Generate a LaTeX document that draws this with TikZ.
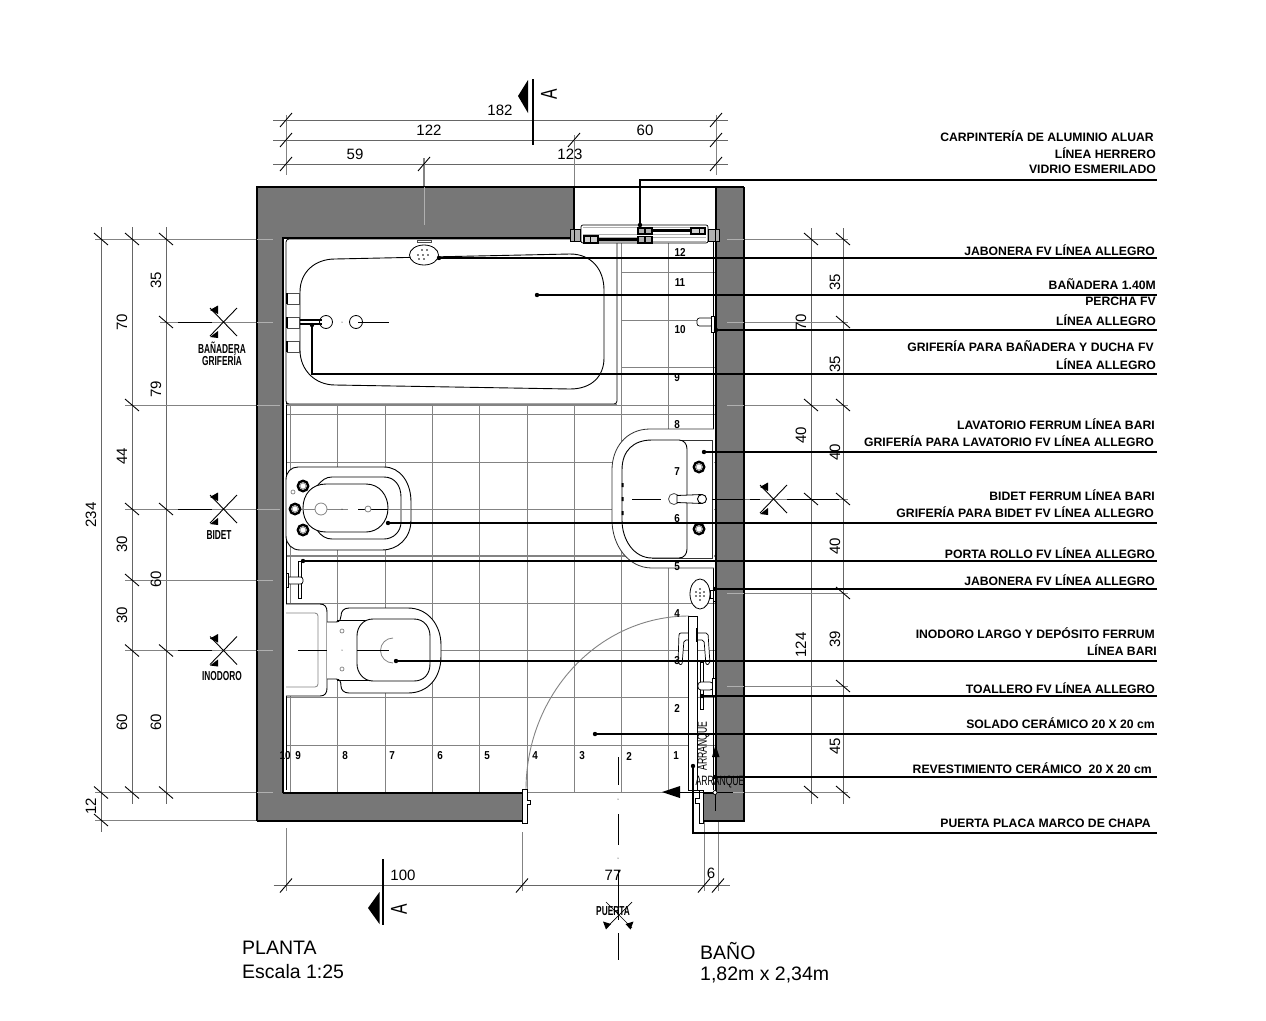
\documentclass[tikz,border=0pt]{standalone}
\usepackage{fontspec}
\setmainfont{Liberation Sans}
\newfontfamily\cond[FakeStretch=.64]{Liberation Sans}
\newfontfamily\condn[FakeStretch=.86]{Liberation Sans}
\newfontfamily\conda[FakeStretch=.68]{Liberation Sans}
\usetikzlibrary{calc}
\definecolor{wallgrey}{HTML}{777777}
\definecolor{tilegrey}{HTML}{838383}
\definecolor{dimgrey}{HTML}{666666}
\definecolor{stubgrey}{HTML}{B0B0B0}
\tikzset{
  wall/.style={fill=wallgrey,draw=none},
  walledge/.style={draw=black,line width=1.1pt},
  tile/.style={draw=tilegrey,line width=1pt},
  ext/.style={draw=tilegrey,line width=.8pt},
  dimline/.style={draw=dimgrey,line width=.8pt},
  tickmark/.style={draw=black,line width=.9pt},
  leader/.style={draw=black,line width=1.2pt},
  fixture/.style={draw=black,line width=.9pt,fill=white},
  fineline/.style={draw=black,line width=.9pt},
  greycirc/.style={draw=tilegrey,line width=.8pt,fill=white},
  lab/.style={font=\fontsize{12.2}{12.2}\selectfont\bfseries,anchor=east,inner sep=0pt},
  num/.style={font=\fontsize{15}{15}\selectfont,inner sep=0pt},
  vnum/.style={num,rotate=90},
  tilenum/.style={font=\condn\fontsize{11.5}{11.5}\selectfont\bfseries,inner sep=0pt},
  title/.style={font=\fontsize{19.5}{19.5}\selectfont,anchor=west,inner sep=0pt},
  cut/.style={font=\cond\fontsize{13}{13}\selectfont\bfseries,inner sep=0pt,align=center},
  arr/.style={font=\cond\fontsize{13.5}{13.5}\selectfont,inner sep=0pt},
  seca/.style={font=\conda\fontsize{23}{23}\selectfont,rotate=90,inner sep=0pt},
}
\newcommand{\TickH}[2]{\draw[tickmark] (#1-6,#2+7) -- (#1+6,#2-7);}
\newcommand{\TickV}[2]{\draw[tickmark] (#1-7,#2-6) -- (#1+7,#2+6);}
\newcommand{\LeadDot}[2]{\fill (#1,#2) circle (2.2);}
\newcommand{\SecMark}[2]{%
  \draw[fineline] (#1-13.5,#2-14) -- (#1+13.5,#2+14) (#1+13.5,#2-14) -- (#1-13.5,#2+14);
  \fill (#1-13.5,#2-12) -- (#1-5.5,#2-16.5) -- (#1-5.5,#2-8) -- cycle;
  \fill (#1-13.5,#2+15) -- (#1-5.5,#2+9) -- (#1-5.5,#2+16) -- cycle;}
\newcommand{\Ring}[2]{%
  \draw[black,line width=2.4pt] (#1,#2) circle (5.2);
  \draw[tilegrey,line width=.6pt] (#1,#2) circle (3);}
\begin{document}
\begin{tikzpicture}[x=1pt,y=-1pt]
\useasboundingbox (0,0) rectangle (1266,1020);
\fill[white] (0,0) rectangle (1266,1020);

% ---- dimension and extension lines
\draw[dimline] (273,120) -- (728,120) (273,140) -- (728,140) (273,164) -- (728,164);
\draw[ext] (286,115) -- (286,175) (716,115) -- (716,175) (574,135) -- (574,187);
\draw[draw=tilegrey,line width=1.1pt] (424,158) -- (424,187);
\foreach \xx in {286,716} {\TickH{\xx}{120}\TickH{\xx}{140}\TickH{\xx}{164}}
\TickH{574}{140}\TickH{424}{164}

\draw[dimline] (101,227) -- (101,832) (132,227) -- (132,804) (166,227) -- (166,804);
\draw[ext] (95,239) -- (257,239) (160,322) -- (257,322) (125,405) -- (257,405)
  (125,509) -- (257,509) (125,580) -- (257,580) (125,650.5) -- (257,650.5)
  (95,792.5) -- (257,792.5) (95,820) -- (257,820);
\draw[fineline,line width=.6pt] (178,322) -- (212,322) (178,509) -- (212,509) (178,650.5) -- (212,650.5);
\foreach \yy in {239,792.5} {\TickV{101}{\yy}\TickV{132}{\yy}\TickV{166}{\yy}}
\TickV{101}{820}
\foreach \yy in {405,509,580,650.5} {\TickV{132}{\yy}}
\foreach \yy in {322,509,650.5} {\TickV{166}{\yy}}

\draw[dimline] (811,228) -- (811,804) (843,228) -- (843,804);
\foreach \yy in {239,322,405,499,593,686,792} {\draw[ext] (744,\yy) -- (848,\yy);}
\draw[fineline,line width=.6pt] (750,499) -- (760,499) (787,499) -- (839,499);
\foreach \yy in {239,405,499,792} {\TickV{811}{\yy}}
\foreach \yy in {239,322,405,499,593,686,792} {\TickV{843}{\yy}}

\draw[dimline] (273.5,885.5) -- (730,885.5);
\draw[ext] (286,828) -- (286,891) (522,832) -- (522,891) (704,820) -- (704,891) (718,820) -- (718,891);
\foreach \xx in {286,522,704,718} {\TickH{\xx}{885.5}}

% ---- tile grid
\foreach \xx in {290,337,385,432,479,527,574} {\draw[tile] (\xx,404) -- (\xx,792);}
\foreach \xx in {621,668} {\draw[tile] (\xx,238) -- (\xx,792);}
\foreach \yy in {272,320,367} {\draw[tile] (621,\yy) -- (716,\yy);}
\foreach \yy in {405,414,462,509,556,603,650,697,745,792} {\draw[tile] (286,\yy) -- (716,\yy);}
\draw[draw=tilegrey,line width=1.3pt] (286,555.5) -- (716,555.5);

% ---- walls
\fill[wall] (257,187) -- (574,187) -- (574,238) -- (283,238) -- (283,793) -- (525,793)
  -- (525,821) -- (257,821) -- cycle;
\fill[wall] (716,187) -- (744,187) -- (744,821) -- (703,821) -- (703,793) -- (716,793) -- cycle;
\draw[walledge] (257,821) -- (257,187) -- (574,187) (283,793) -- (283,238) -- (574,238)
  (744,187) -- (744,821) -- (703,821) (716,187) -- (716,793) (257,821) -- (525,821)
  (283,793) -- (525,793) (703,793) -- (716,793) (574,187) -- (744,187);
\draw[fineline,line width=.7pt] (286,241) -- (286,790) (713.5,240) -- (713.5,790);
\draw[draw=black,line width=2pt] (574,187) -- (574,238);
% extension lines seen across the walls
\draw[draw=stubgrey,line width=1pt] (424,187) -- (424,225);
\draw[draw=stubgrey,line width=.9pt] (257,239) -- (273,239) (257,322) -- (273,322) (257,405) -- (280,405)
  (257,509) -- (280,509) (257,580) -- (273,580) (257,650.5) -- (273,650.5) (257,792.5) -- (273,792.5);
\foreach \yy in {239,322,405,593,686,792} {\draw[draw=stubgrey,line width=.9pt] (727,\yy) -- (744,\yy);}
\draw[fineline,line width=.6pt] (719,499) -- (744,499);

% ---- bathtub
\draw[fixture,line width=.8pt,rounded corners=3pt] (286,239) rectangle (617,404);
\draw[draw=tilegrey,line width=1.4pt] (286,404.5) -- (617,404.5);
\draw[fixture] (335,259) -- (570,254) .. controls (592,254) and (604,270) .. (604,290)
  -- (604,358) .. controls (604,376) and (592,389) .. (570,389)
  -- (335,385) .. controls (315,385) and (300,370) .. (300,350)
  -- (300,292) .. controls (300,272) and (315,259) .. (335,259) -- cycle;
\foreach \yy in {293,317,341} {\draw[fixture,draw=black!70] (287.5,\yy) rectangle (299.5,\yy+11);}
\draw[fineline,line width=1.4pt] (287,293) -- (287,304) (287,317) -- (287,328) (287,341) -- (287,352);
\draw[fixture,line width=.8pt] (326,322) circle (6.5) (356,322) circle (6.5);
\draw[fineline,line width=1.3pt] (300,320) -- (322,320) (300,324) -- (322,324);
\draw[fineline,line width=.6pt] (358,322) -- (389,322);
\fill (342,322) circle (.5);
% shower head
\draw[fineline,fill=white,draw=black!70] (417,240.5) rectangle (431,242.5);
\draw[fixture,line width=.8pt] (424,255) ellipse (14.5 and 10);
\foreach \dx/\dy in {-2/-5,3/-5,-6/0,-1/0,4/0,-5/4,0/4} {\fill (424+\dx,255+\dy) circle (.9);}

% ---- window
\draw[fixture,line width=.7pt,rounded corners=2pt] (581,225) rectangle (708,243);
\draw[draw=stubgrey,line width=1.6pt] (583,227.5) -- (706,227.5) (583,234.5) -- (706,234.5);
\draw[draw=stubgrey,line width=1pt] (583,237) -- (706,237) (583,241) -- (706,241);
\draw[fill=stubgrey,draw=black,line width=1pt] (570,229) rectangle (580,241) (708.5,229) rectangle (719,241);
\draw[fineline,line width=1pt] (574,229) -- (574,241) (715,229) -- (715,241);
\draw[fill=stubgrey,draw=black,line width=1.4pt] (638,228) rectangle (652,234) (638,236.5) rectangle (652,243);
\draw[fineline,line width=1.2pt] (645,228) -- (645,234) (645,236.5) -- (645,243);
\draw[fineline,line width=2.2pt] (590,239.5) -- (638,239.5) (652,230.5) -- (692,230.5);
\draw[fill=stubgrey!60,draw=black,line width=1.2pt] (584,236) rectangle (598,243) (691,228) rectangle (705,234);
\draw[fineline,line width=1pt] (590,236) -- (590,243) (699,228) -- (699,234);

% ---- percha
\draw[fixture,line width=.7pt,rounded corners=2.5pt] (697,318) rectangle (713,326);
\draw[fixture,line width=.7pt] (711,316) rectangle (714.5,332);

% ---- sink
\draw[fixture,draw=black!80,line width=.8pt] (714,429) -- (650,429)
  .. controls (626,429) and (612,448) .. (612,470) -- (612,520)
  .. controls (612,545) and (628,568) .. (652,568) -- (714,568);
\draw[fineline,draw=black!80,line width=.7pt] (652,440) -- (712,440) -- (712,558) -- (652,558);
\draw[fixture] (652,440) -- (679,440) .. controls (684,440) and (687,444) .. (687,449)
  -- (687,549) .. controls (687,554) and (684,558) .. (679,558) -- (652,558)
  .. controls (634,558) and (622,540) .. (622,520) -- (622,470)
  .. controls (622,450) and (634,440) .. (652,440) -- cycle;
\fill (621.5,483) rectangle (623.5,487) (621.5,497) rectangle (623.5,501) (621.5,511) rectangle (623.5,515);
\draw[fineline,line width=.6pt] (632,499) -- (661,499) (712,499) -- (719,499);
\draw[greycirc,draw=black!70] (674,499) circle (5.5);
\draw[fineline,fill=white,line width=.8pt] (677,495.5) -- (702,494.5) -- (702,503.5) -- (677,502.5) -- cycle;
\draw[fixture,line width=.9pt] (702,499) circle (4.5);
\Ring{699}{467}\Ring{699}{529}

% ---- bidet
\draw[fixture] (298,467) -- (384,467) .. controls (400,467) and (411,482) .. (411,502)
  -- (411,520) .. controls (411,538) and (398,550) .. (382,550) -- (300,550)
  .. controls (292,550) and (286,544) .. (286,536) -- (286,480)
  .. controls (286,472) and (291,467) .. (298,467) -- cycle;
\draw[fineline] (317,486) .. controls (322,480) and (326,477) .. (332,477) -- (384,477)
  .. controls (395,477) and (401,486) .. (401,497) -- (401,522)
  .. controls (401,532) and (393,539) .. (384,539) -- (332,539)
  .. controls (326,539) and (321,536) .. (317,530);
\draw[fixture] (326,484) -- (366,484) .. controls (380,484) and (388,496) .. (388,508)
  .. controls (388,522) and (378,532) .. (366,532) -- (326,532)
  .. controls (312,532) and (303,522) .. (303,508) .. controls (303,494) and (312,484) .. (326,484) -- cycle;
\draw[draw=tilegrey,line width=.8pt] (300,509) -- (348,509) (388,509) -- (411,509);
\draw[fineline,line width=.6pt] (358,509) -- (388,509);
\draw[greycirc] (321,509) circle (6) (368,509) circle (3);
\draw[draw=tilegrey,line width=.7pt] (293,492) circle (2);
\fill (342,509) circle (.5);
\Ring{303}{486}\Ring{295}{509}\Ring{303}{530}

% ---- toilet paper holder
\draw[fixture,line width=.7pt] (298,561) rectangle (301,598);
\draw[fixture,line width=.7pt,rounded corners=2.5pt] (287,577) rectangle (303,584);
\draw[fixture,line width=.7pt] (286,573) rectangle (288.5,587);

% ---- toilet
\draw[fixture] (286,604) -- (320,604) .. controls (325,604) and (327,607) .. (327,612)
  -- (327,688) .. controls (327,693) and (325,696) .. (320,696) -- (286,696);
\draw[draw=tilegrey,line width=.8pt,fill=white,rounded corners=3pt] (286,613) -- (318,613) -- (318,687) -- (286,687);
\draw[fixture] (327,622) -- (336,622) .. controls (340,622) and (341,619) .. (341,616)
  .. controls (341,611) and (344,608) .. (349,608) -- (408,608)
  .. controls (428,608) and (441,625) .. (441,645) -- (441,656)
  .. controls (441,678) and (428,693) .. (408,693) -- (349,693)
  .. controls (344,693) and (341,690) .. (341,686)
  .. controls (341,682) and (340,679) .. (336,679) -- (327,679);
\draw[fineline,rounded corners=1pt] (337,620) -- (375,620) (337,680) -- (375,680);
\draw[fixture] (373,619) -- (414,619) .. controls (424,619) and (430,627) .. (430,636)
  -- (430,664) .. controls (430,674) and (424,681) .. (414,681) -- (373,681)
  .. controls (363,681) and (357,672) .. (357,664) -- (357,636)
  .. controls (357,627) and (363,619) .. (373,619) -- cycle;
\draw[draw=tilegrey,line width=.8pt] (393,638) arc[start angle=270,end angle=90,radius=12.5];
\draw[fineline,line width=.6pt] (298,650) -- (327,650) (357,650) -- (389,650);
\draw[draw=tilegrey,line width=.7pt] (342,631) circle (2) (342,669) circle (2);
\fill (342,650) circle (.5);

% ---- soap dish right
\draw[fixture,line width=.8pt] (710,590) rectangle (713,598);
\draw[fixture,line width=.7pt] (713,588) rectangle (715.5,601);
\draw[fixture,line width=.8pt] (700,594) ellipse (10 and 15);
\foreach \dx/\dy in {0/-5,-4/-2,0/-1,4/-2,-4/2,0/2,4/2,0/6} {\fill (700+\dx,594+\dy) circle (.8);}

% ---- door
\draw[draw=tilegrey,line width=.9pt] (526,790) arc[start angle=180,end angle=270,x radius=163,y radius=174];
\draw[fixture,line width=.8pt] (688.5,616) rectangle (697,790);
\draw[fixture,line width=.7pt,rounded corners=2pt] (688,633) -- (679,633) -- (678,664) -- (682,665) -- (684,640) -- (688,640);
\draw[fixture,line width=.7pt,rounded corners=2pt] (697,633) -- (708,633) -- (710,664) -- (706,665) -- (704,640) -- (697,640);
\draw[fineline,line width=1.8pt] (688.5,628) -- (688.5,642) (697,628) -- (697,642);
\draw[fixture,line width=.7pt] (700.5,662) rectangle (703.5,709);
\draw[fixture,line width=.7pt,rounded corners=3pt] (698,682) rectangle (713,690);
\draw[fixture,line width=.7pt] (712,678) rectangle (715,695);
\draw[fixture,line width=.8pt] (522,789) -- (527,789) -- (527,800) -- (530,800) -- (530,804) -- (527,804) -- (527,823) -- (522,823) -- cycle;
\draw[fixture,line width=.8pt] (699,790) -- (703,790) -- (703,823) -- (699,823) -- (699,803) -- (695,803) -- (695,798) -- (699,798) -- cycle;
\draw[fineline,line width=.8pt] (697,790) -- (701,790);

% ---- start-point marks
\draw[fineline,line width=1pt] (680,792) -- (733,792);
\fill (662,792) -- (680,786) -- (680,798) -- cycle;
\draw[fineline,line width=.8pt] (715.5,757) -- (715.5,811);
\fill (715.5,745) -- (712,757) -- (719.5,757) -- cycle;
\draw[fineline,fill=white,line width=.7pt] (715,792.5) circle (2);
\node[arr,rotate=90] (arrv) at (703.5,746) {ARRANQUE};
\node[arr] (arrh) at (720,782) {ARRANQUE};

% ---- centre line at door
\draw[fineline,line width=.7pt] (618,757) -- (618,785) (618,814) -- (618,845) (618,870) -- (618,920) (618,933) -- (618,960);
\fill (618,799) circle (.5) (618,858) circle (.5);
\draw[fineline,line width=.7pt] (606,902) -- (632,928) (632,902) -- (606,928);
\fill (603,921.5) -- (611,924) -- (606,929.5) -- cycle;
\fill (633.5,921.5) -- (625.5,924) -- (630.5,929.5) -- cycle;
\node[cut] (puerta) at (613,911) {PUERTA};

% ---- tile numbers
\foreach \nn/\xx/\yy in {12/680/252,11/680/283,10/680/330,9/677/378,8/677/425,7/677/472,6/677/519,5/677/567,4/677/614,3/677/661,2/677/708,1/676/756,
  10/285/756,9/298/756,8/345/756,7/392/756,6/440/756,5/487/756,4/535/756,3/582/756,2/629/756} {
  \node[tilenum] at (\xx,\yy) {\nn};
}

% ---- section marks
\SecMark{223.5}{322}\SecMark{223.5}{509}\SecMark{223.5}{650.5}\SecMark{773.5}{499}
\node[cut] (cutbath) at (222,353.5) {BAÑADERA\\[-1pt]GRIFERÍA};
\node[cut] (cutbidet) at (219,535) {BIDET};
\node[cut] (cutwc) at (222,676) {INODORO};

% ---- section A
\draw[black,line width=1.5pt] (533,79) -- (533,145);
\fill (528,80) -- (518,96) -- (528,113) -- cycle;
\node[seca] (atop) at (549,94) {A};
\draw[black,line width=1.5pt] (383,859) -- (383,925);
\fill (379.5,892) -- (368,908) -- (379.5,924) -- cycle;
\node[seca] (abot) at (399,909) {A};

% ---- leaders
\draw[leader] (640,225) -- (640,180) -- (1157,180);
\LeadDot{640}{225}
\foreach \xx/\yy in {439/258,537/295,716/330,704/452,388/523,303/561,715/589,396/661,702/696,595/734,715/777} {
  \draw[leader] (\xx,\yy) -- (1157,\yy);
  \LeadDot{\xx}{\yy}
}
\draw[leader] (312,325) -- (312,374) -- (1157,374);
\LeadDot{312}{325}
\draw[leader] (693,766) -- (693,833) -- (1157,833);
\LeadDot{693}{766}

% ---- dimension texts
\node[num] (d182) at (500,110) {182};
\node[num] (d122) at (429,130) {122};
\node[num] (d60t) at (645,130) {60};
\node[num] (d59) at (355,154) {59};
\node[num] (d123) at (570,154) {123};
\node[num] (d100) at (403,875) {100};
\node[num] (d77) at (613,875) {77};
\node[num] (d6) at (711,873) {6};
\foreach \tt/\xx/\yy in {35/156/280,70/122/322,79/156/389,44/122/456,234/91/515,30/122/544,60/156/579,30/122/615,60/122/722,60/156/722,12/91/806,
  35/835/282,70/801/322,35/835/364,40/801/435,40/835/452,40/835/546,124/801/645,39/835/639,45/835/746} {
  \node[vnum] at (\xx,\yy) {\tt};
}

% ---- labels
\node[lab] (a1) at (1154,136) {CARPINTERÍA DE ALUMINIO ALUAR};
\node[lab] (a2) at (1156,153) {LÍNEA HERRERO};
\node[lab] (a3) at (1156,169) {VIDRIO ESMERILADO};
\node[lab] (b1) at (1155,250) {JABONERA FV LÍNEA ALLEGRO};
\node[lab] (c1) at (1156,284) {BAÑADERA 1.40M};
\node[lab] (c2) at (1156,301) {PERCHA FV};
\node[lab] (c3) at (1156,320) {LÍNEA ALLEGRO};
\node[lab] (e1) at (1154,346) {GRIFERÍA PARA BAÑADERA Y DUCHA FV};
\node[lab] (e2) at (1156,364) {LÍNEA ALLEGRO};
\node[lab] (f1) at (1155,424) {LAVATORIO FERRUM LÍNEA BARI};
\node[lab] (f2) at (1154,441) {GRIFERÍA PARA LAVATORIO FV LÍNEA ALLEGRO};
\node[lab] (g1) at (1155,495) {BIDET FERRUM LÍNEA BARI};
\node[lab] (g2) at (1154,512) {GRIFERÍA PARA BIDET FV LÍNEA ALLEGRO};
\node[lab] (h1) at (1155,553) {PORTA ROLLO FV LÍNEA ALLEGRO};
\node[lab] (h2) at (1155,580) {JABONERA FV LÍNEA ALLEGRO};
\node[lab] (i1) at (1155,633) {INODORO LARGO Y DEPÓSITO FERRUM};
\node[lab] (i2) at (1157,650) {LÍNEA BARI};
\node[lab] (j1) at (1155,688) {TOALLERO FV LÍNEA ALLEGRO};
\node[lab] (j2) at (1155,723) {SOLADO CERÁMICO 20 X 20 cm};
\node[lab] (j3) at (1152,768) {REVESTIMIENTO CERÁMICO\ \ 20 X 20 cm};
\node[lab] (j4) at (1151,823) {PUERTA PLACA MARCO DE CHAPA};

% ---- titles
\node[title] (t1) at (242,948) {PLANTA};
\node[title] (t2) at (242,972) {Escala 1:25};
\node[title] (t3) at (700,951) {BAÑO};
\node[title] (t4) at (700,975) {1,82m x 2,34m};
\end{tikzpicture}
\end{document}
